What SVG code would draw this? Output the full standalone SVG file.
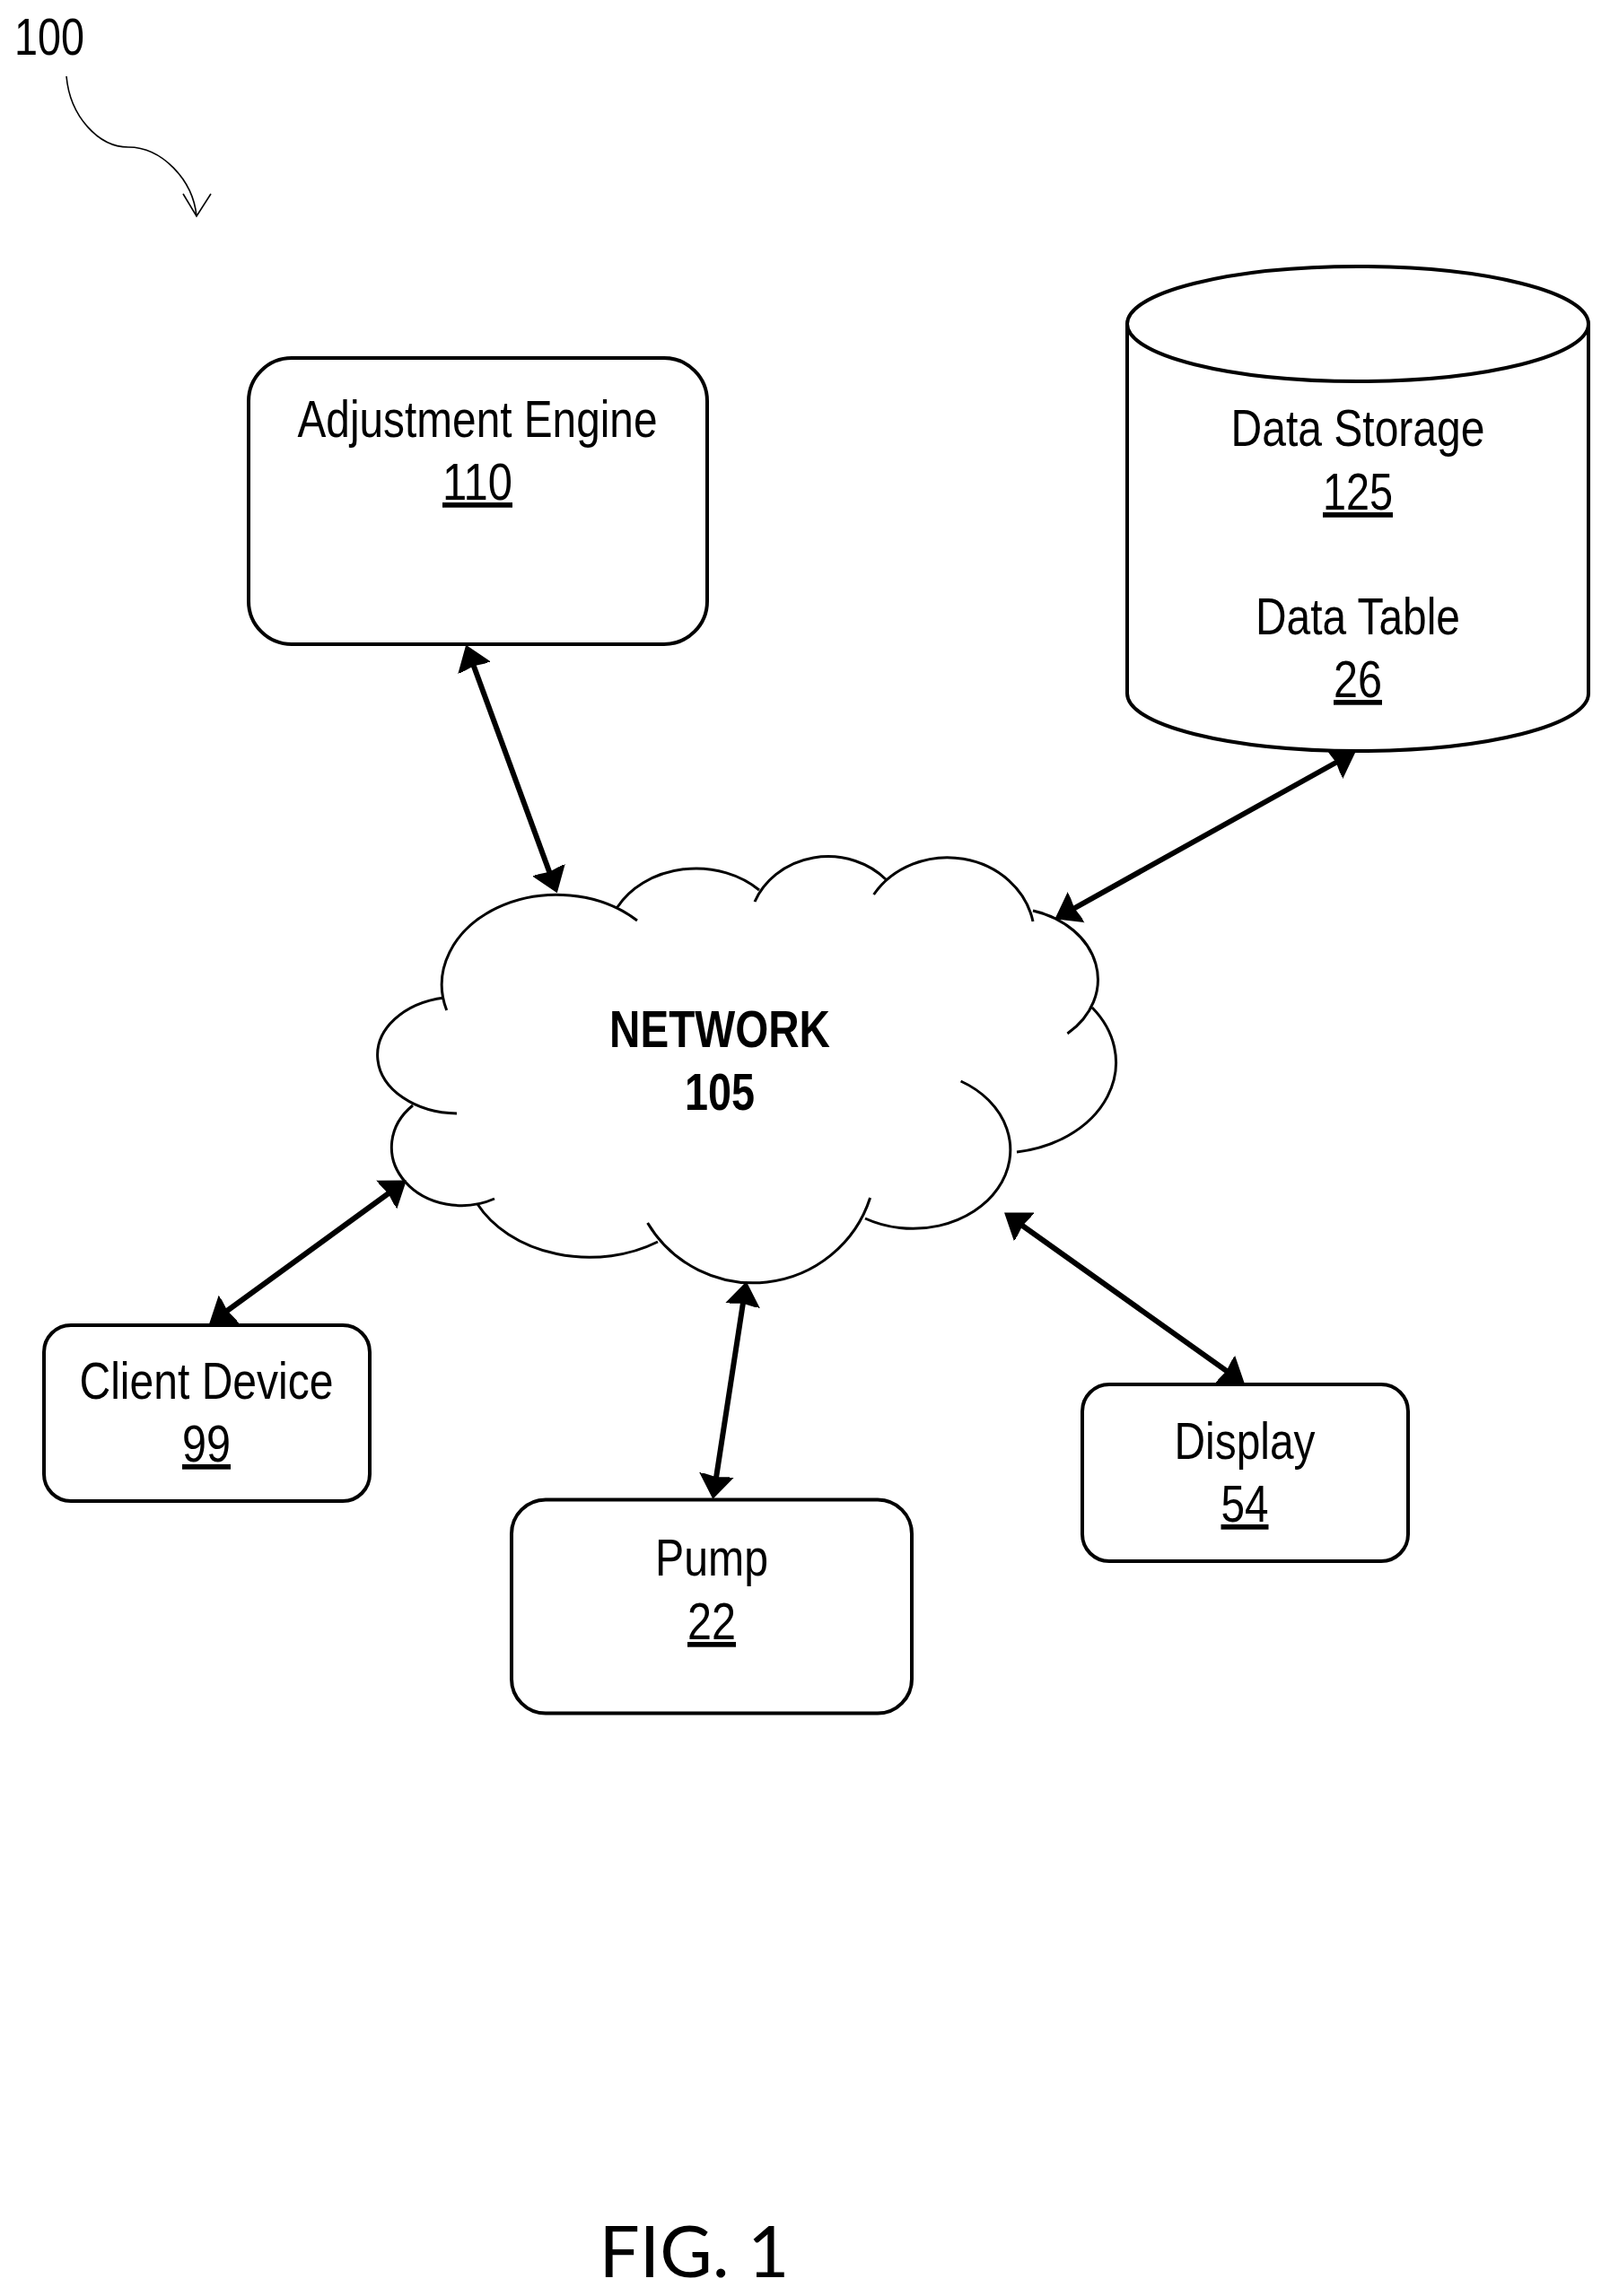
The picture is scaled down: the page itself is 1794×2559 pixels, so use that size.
<svg xmlns="http://www.w3.org/2000/svg" width="1794" height="2559" viewBox="0 0 1794 2559">
<style>
text{font-family:"Liberation Sans",Arial,sans-serif;font-size:57px;fill:#000;text-anchor:middle}
.u{text-decoration:underline}
.b{font-weight:bold}
.box{fill:#fff;stroke:#000;stroke-width:4}
.cloud{fill:none;stroke:#000;stroke-width:3;stroke-linecap:butt}
.conn{fill:none;stroke:#000;stroke-width:6;marker-start:url(#head);marker-end:url(#head)}
.thin{fill:none;stroke:#000;stroke-width:1.6}
</style>
<defs>
<marker id="head" markerUnits="userSpaceOnUse" markerWidth="30" markerHeight="44" refX="16" refY="22" orient="auto-start-reverse" viewBox="0 0 30 44">
<path d="M27 22L-1 2L2 22L-1 42Z" fill="#000"/>
</marker>
</defs>
<rect width="1794" height="2559" fill="#fff"/>
<g id="ref-100">
<text x="55" y="61" textLength="78" lengthAdjust="spacingAndGlyphs">100</text>
<path class="thin" d="M74 85C78 130 110 164 143 164C180 164 215 200 219 241M204 216L219 241L235 216"/>
</g>
<g id="network">
<path class="cloud" d="M497.700 1126A128 100 0 0 1 710 1026M688 1011A100 83 0 0 1 846 992M841 1005A88 80 0 0 1 987 980M973.600 997A97 88 0 0 1 1151 1027M1151 1015A100 80 0 0 1 1189.400 1152M1217 1123A130 101 0 0 1 1133 1284M1070.600 1205A105 85 0 1 1 964 1358M969.600 1335A137 137 0 0 1 721.600 1363M733 1384A140 108 0 0 1 532 1342M551 1336A78 65 0 0 1 460 1232M509 1241A90 65 0 0 1 495 1112"/>
<text class="b" x="802" y="1167" textLength="246" lengthAdjust="spacingAndGlyphs">NETWORK</text>
<text class="b" x="802" y="1237" textLength="78" lengthAdjust="spacingAndGlyphs">105</text>
</g>
<g id="connectors">
<path class="conn" d="M523 729L617 985"/>
<path class="conn" d="M1501 843L1185 1019"/>
<path class="conn" d="M444 1322L242 1469"/>
<path class="conn" d="M830 1439L796 1660"/>
<path class="conn" d="M1128 1358L1378 1536"/>
</g>
<g id="adjustment-engine">
<rect class="box" x="277" y="399" width="511" height="319" rx="48"/>
<text x="532" y="487" textLength="401" lengthAdjust="spacingAndGlyphs">Adjustment Engine</text>
<text class="u" x="532" y="557" textLength="78" lengthAdjust="spacingAndGlyphs">110</text>
</g>
<g id="data-storage">
<path class="box" d="M1256 361A257 64 0 0 1 1770 361V773A257 64 0 0 1 1256 773Z"/>
<path class="box" style="fill:none" d="M1256 361A257 64 0 0 0 1770 361"/>
<text x="1513" y="497" textLength="283" lengthAdjust="spacingAndGlyphs">Data Storage</text>
<text class="u" x="1513" y="568" textLength="78" lengthAdjust="spacingAndGlyphs">125</text>
<text x="1513" y="707" textLength="228" lengthAdjust="spacingAndGlyphs">Data Table</text>
<text class="u" x="1513" y="777" textLength="54" lengthAdjust="spacingAndGlyphs">26</text>
</g>
<g id="client-device">
<rect class="box" x="49" y="1477" width="363" height="196" rx="30"/>
<text x="230" y="1559" textLength="283" lengthAdjust="spacingAndGlyphs">Client Device</text>
<text class="u" x="230" y="1629" textLength="54" lengthAdjust="spacingAndGlyphs">99</text>
</g>
<g id="pump">
<rect class="box" x="570" y="1671.500" width="446" height="238" rx="38"/>
<text x="793" y="1756" textLength="126" lengthAdjust="spacingAndGlyphs">Pump</text>
<text class="u" x="793" y="1827" textLength="54" lengthAdjust="spacingAndGlyphs">22</text>
</g>
<g id="display">
<rect class="box" x="1206" y="1543" width="363" height="197" rx="30"/>
<text x="1387" y="1626" textLength="157" lengthAdjust="spacingAndGlyphs">Display</text>
<text class="u" x="1387" y="1696" textLength="53" lengthAdjust="spacingAndGlyphs">54</text>
</g>
<text id="fig" style="font-family:Lato,sans-serif;font-size:80px" x="773.500" y="2538" textLength="212" lengthAdjust="spacingAndGlyphs">FIG. 1</text>
</svg>
